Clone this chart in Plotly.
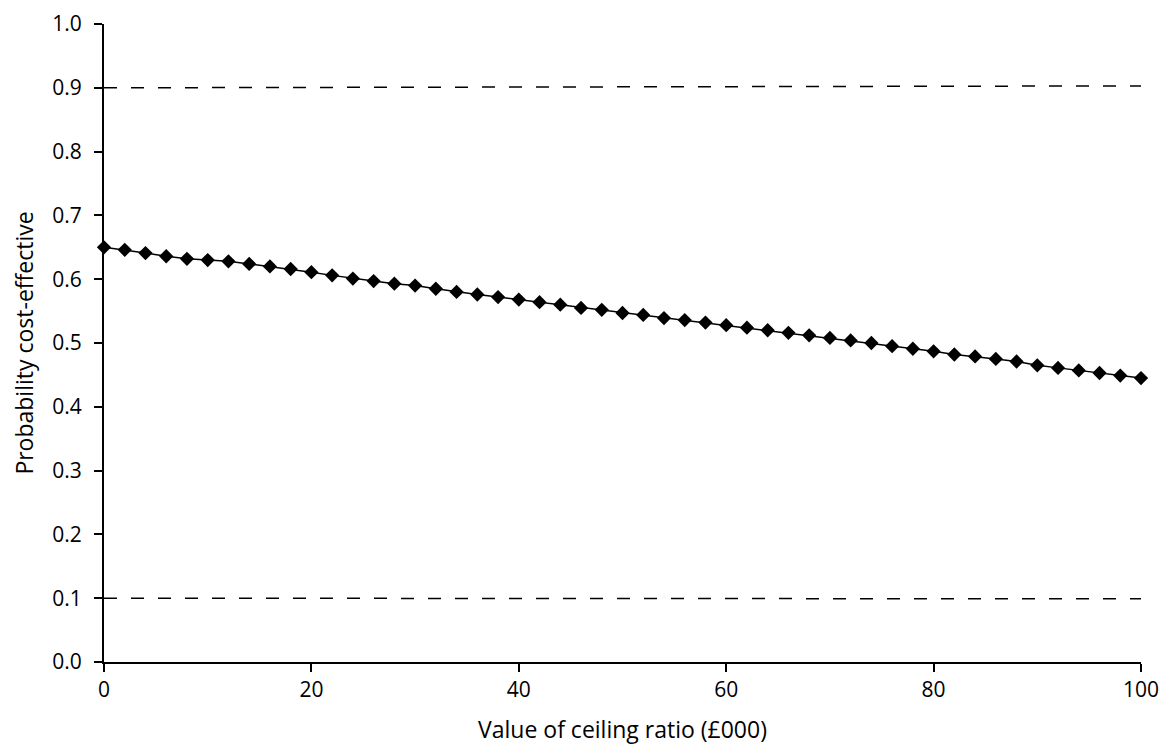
import plotly.graph_objects as go

ceiling = list(range(0, 101, 2))
prob = [0.650, 0.646, 0.641, 0.636, 0.632, 0.630, 0.628, 0.624, 0.620, 0.616,
        0.611, 0.606, 0.601, 0.597, 0.593, 0.590, 0.585, 0.580, 0.576, 0.572,
        0.568, 0.564, 0.560, 0.555, 0.552, 0.547, 0.544, 0.539, 0.536, 0.532,
        0.528, 0.524, 0.520, 0.516, 0.512, 0.508, 0.504, 0.500, 0.495, 0.491,
        0.487, 0.482, 0.479, 0.475, 0.471, 0.465, 0.461, 0.457, 0.453, 0.449,
        0.445]
upper_x = [0, 100]
upper_y = [0.9, 0.903]
lower_x = [0, 100]
lower_y = [0.1, 0.099]
x_ticks = [0, 20, 40, 60, 80, 100]
y_ticks = [0.0, 0.1, 0.2, 0.3, 0.4, 0.5, 0.6, 0.7, 0.8, 0.9, 1.0]

fig = go.Figure()
for xs, ys in ((upper_x, upper_y), (lower_x, lower_y)):
    fig.add_trace(go.Scatter(x=xs, y=ys, mode="lines",
                             line=dict(color="black", width=1.5, dash="13px,14px"),
                             showlegend=False, hoverinfo="skip"))
fig.add_trace(go.Scatter(x=ceiling, y=prob, mode="lines+markers",
                         line=dict(color="black", width=1.5),
                         marker=dict(symbol="diamond", size=11, color="black"),
                         cliponaxis=False, showlegend=False))

font = dict(family="Open Sans, Noto Sans, sans-serif", size=21, color="black")
fig.update_layout(
    width=1160, height=737,
    margin=dict(l=96, r=27, t=16, b=83, autoexpand=False),
    paper_bgcolor="white", plot_bgcolor="white",
    font=font,
    xaxis=dict(range=[0, 100], tickvals=x_ticks, automargin=False,
               showline=True, linecolor="black", linewidth=2,
               ticks="outside", ticklen=8, tickwidth=2, tickcolor="black",
               showgrid=False, zeroline=False,
               title=dict(text="Value of ceiling ratio (£000)", standoff=27,
                          font=dict(size=23)),
               ticklabelstandoff=0),
    yaxis=dict(range=[0, 1.0], tickvals=y_ticks, automargin=False,
               tickformat=".1f",
               showline=True, linecolor="black", linewidth=2,
               ticks="outside", ticklen=8, tickwidth=2, tickcolor="black",
               showgrid=False, zeroline=False,
               title=dict(text="Probability cost-effective", standoff=18,
                          font=dict(size=23)),
               ticklabelstandoff=8),
)
fig.write_html("out.html")
